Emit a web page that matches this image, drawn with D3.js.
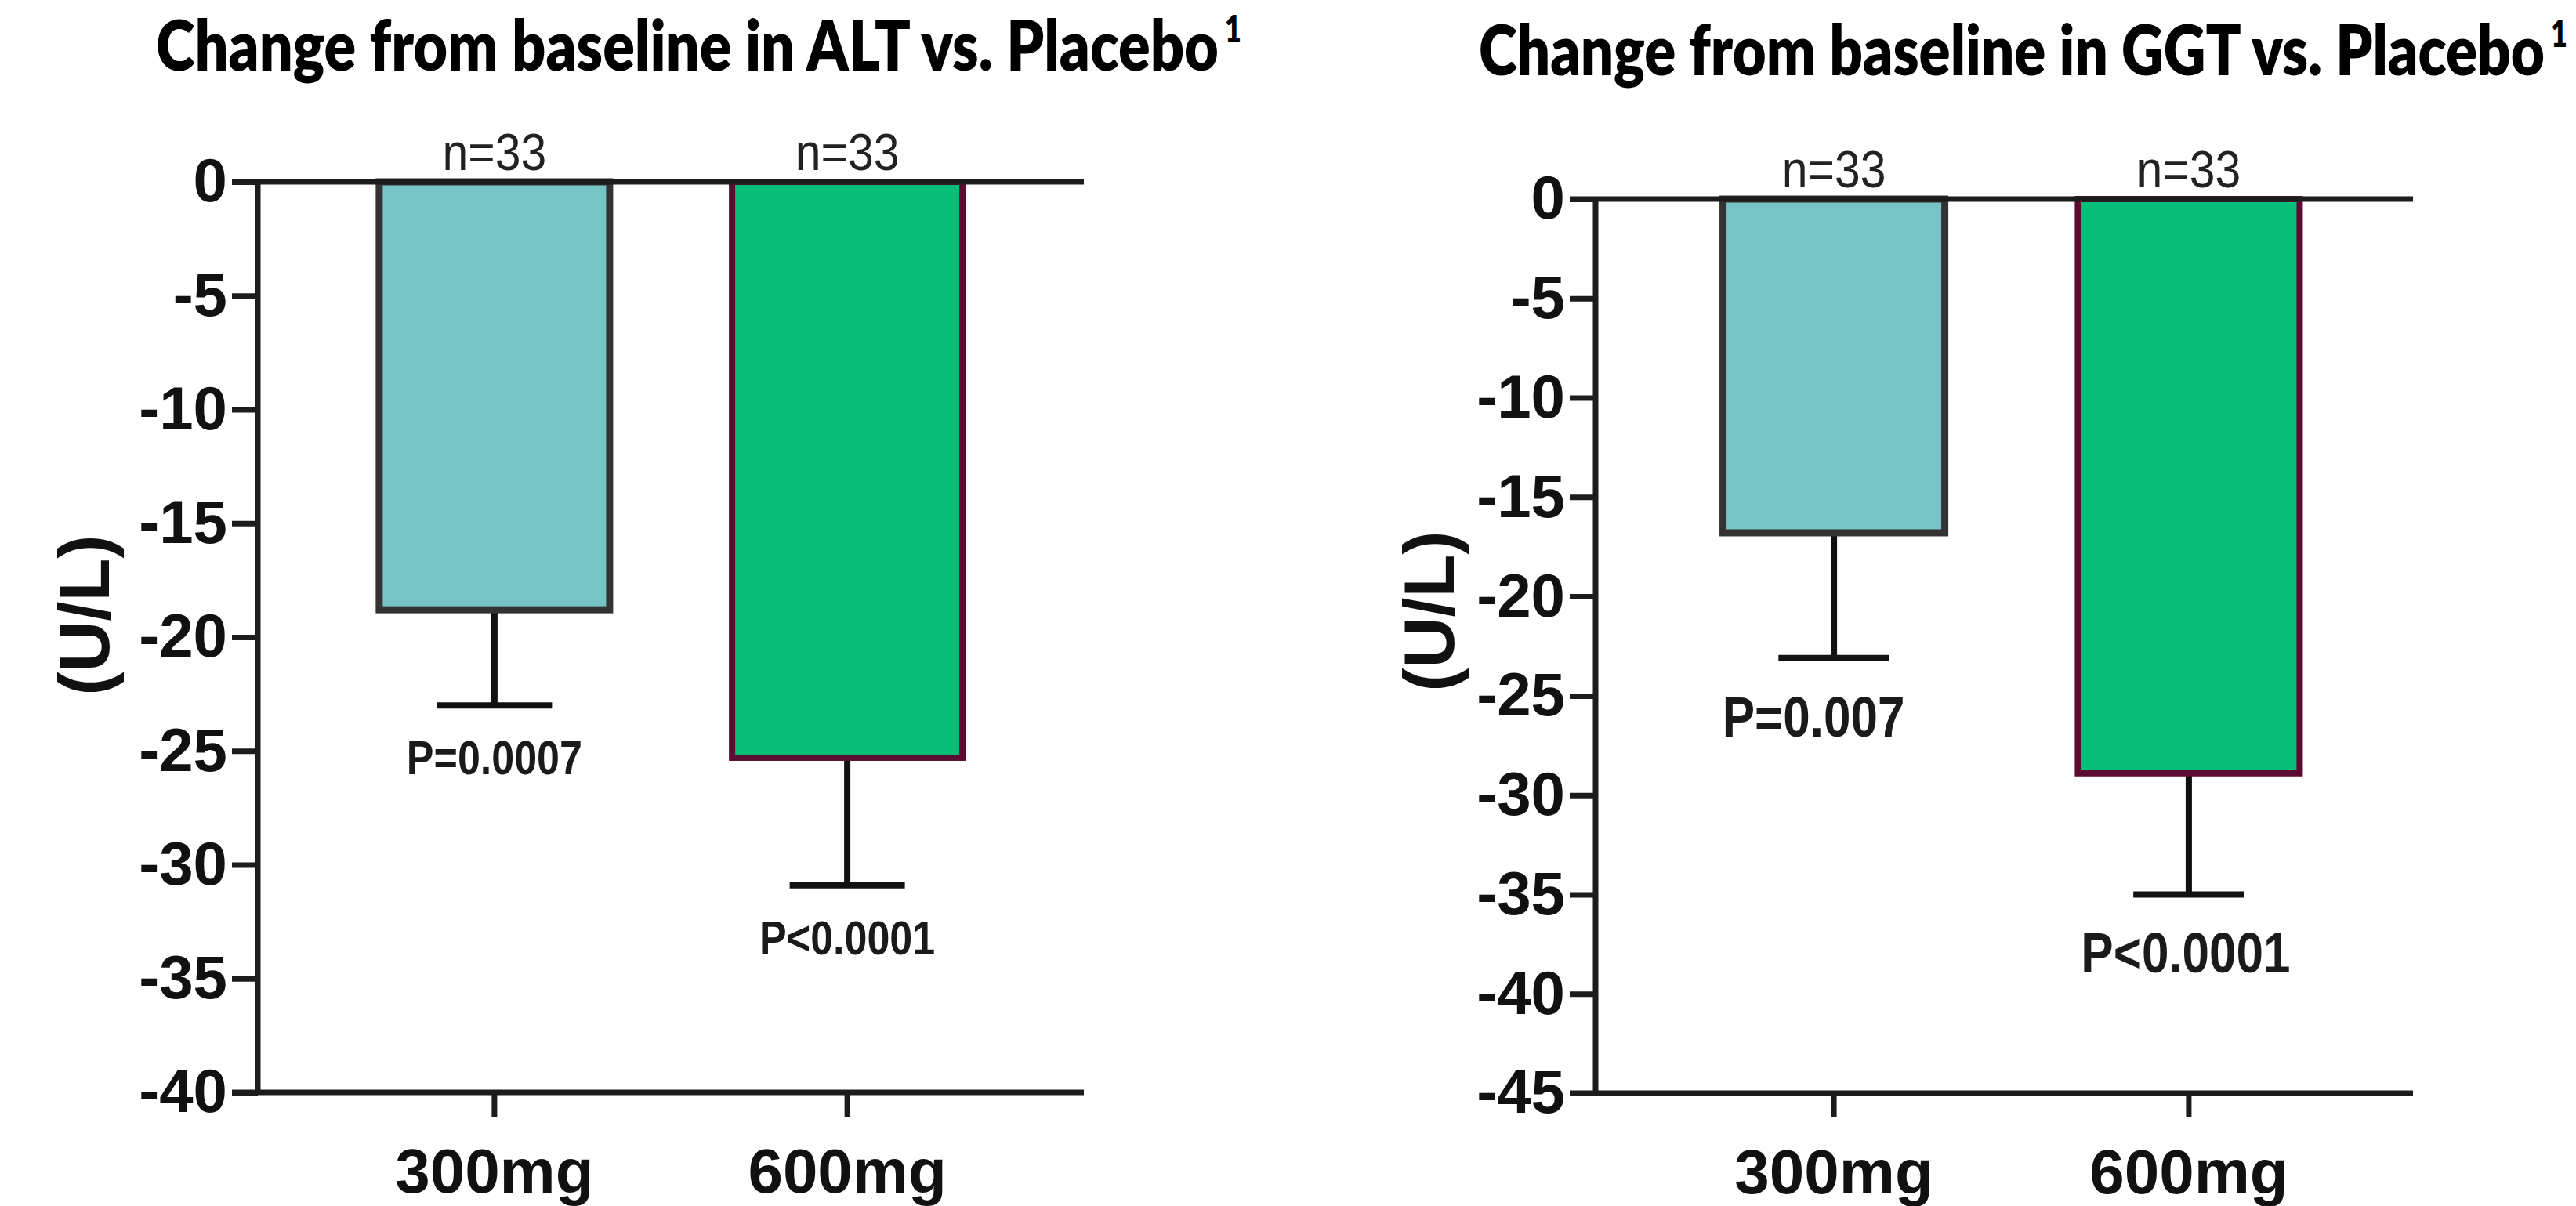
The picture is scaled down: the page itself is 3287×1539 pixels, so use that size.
<!DOCTYPE html>
<html>
<head>
<meta charset="utf-8">
<script src="https://cdn.jsdelivr.net/npm/d3@7"></script>
<style>
  html, body { margin: 0; padding: 0; background: #fff; }
  svg { display: block; }
</style>
</head>
<body>
<svg id="chart" width="3287" height="1539"></svg>
<script>
const doses = ["300mg", "600mg"];
const groupSizes = ["n=33", "n=33"];

const altMeans = [-18.8, -25.3];
const altErrorEnds = [-23.0, -30.9];
const altPValues = ["P=0.0007", "P<0.0001"];
const altTicks = [0, -5, -10, -15, -20, -25, -30, -35, -40];

const ggtMeans = [-16.8, -28.9];
const ggtErrorEnds = [-23.1, -35.0];
const ggtPValues = ["P=0.007", "P<0.0001"];
const ggtTicks = [0, -5, -10, -15, -20, -25, -30, -35, -40, -45];

const barFills = ["#76c4c6", "#05bf78"];
const barStrokes = ["#333333", "#5c0c32"];
const barStrokeWidths = [9, 8];

const axisColor = "#1c1c1c";
const numFont = "'Liberation Sans', Arial, sans-serif";
const titleFont = "Lato, 'Open Sans', sans-serif";

const svg = d3.select("#chart");

drawPanel({
  title: "Change from baseline in ALT vs. Placebo",
  means: altMeans, errorEnds: altErrorEnds, pLabels: altPValues, ticks: altTicks,
  left: 329, right: 1383, bandRight: 1383, top: 232, bottom: 1394,
  padInner: 0.347, padOuter: 0.344,
  titleX: 199, titleY: 90, titleWidth: 1356,
  yLabelX: 108, yLabelY: 785,
  pSize: 52, pGap: 88, pDx: [0, 0]
});

drawPanel({
  title: "Change from baseline in GGT vs. Placebo",
  means: ggtMeans, errorEnds: ggtErrorEnds, pLabels: ggtPValues, ticks: ggtTicks,
  left: 2036, right: 3079, bandRight: 3097, top: 254, bottom: 1395,
  padInner: 0.375, padOuter: 0.359,
  titleX: 1887, titleY: 96, titleWidth: 1360,
  yLabelX: 1824, yLabelY: 780,
  pSize: 62, pGap: 100, pDx: [-26, -4]
});

function drawPanel(o) {
  const g = svg.append("g");

  const y = d3.scaleLinear()
    .domain([0, d3.min(o.ticks)])
    .range([o.top, o.bottom]);

  const x = d3.scaleBand()
    .domain(doses)
    .range([o.left, o.bandRight])
    .paddingInner(o.padInner)
    .paddingOuter(o.padOuter);

  const rows = doses.map((dose, i) => ({
    dose,
    mean: o.means[i],
    err: o.errorEnds[i],
    p: o.pLabels[i],
    n: groupSizes[i],
    fill: barFills[i],
    stroke: barStrokes[i],
    strokeWidth: barStrokeWidths[i],
    pDx: o.pDx[i]
  }));
  const cx = (d) => x(d.dose) + x.bandwidth() / 2;
  const capW = x.bandwidth() * 0.5;

  // title: condensed look from a smaller size stretched vertically
  g.append("text")
    .attr("transform", `translate(${o.titleX},${o.titleY}) scale(1,1.4)`)
    .attr("textLength", o.titleWidth)
    .attr("lengthAdjust", "spacingAndGlyphs")
    .attr("font-family", titleFont)
    .attr("font-weight", 800)
    .attr("font-size", 64)
    .attr("fill", "#000")
    .text(o.title);
  g.append("text")
    .attr("transform", `translate(${o.titleX + o.titleWidth + 8},${o.titleY - 36}) scale(1,1.3)`)
    .attr("font-family", titleFont)
    .attr("font-weight", 800)
    .attr("font-size", 36)
    .attr("fill", "#000")
    .text("1");

  // error bars (below bars)
  const err = g.selectAll("g.err").data(rows).join("g").attr("class", "err")
    .attr("stroke", "#111")
    .attr("stroke-width", 8);
  err.append("line")
    .attr("x1", cx).attr("x2", cx)
    .attr("y1", (d) => y(d.mean)).attr("y2", (d) => y(d.err));
  err.append("line")
    .attr("x1", (d) => cx(d) - capW / 2).attr("x2", (d) => cx(d) + capW / 2)
    .attr("y1", (d) => y(d.err)).attr("y2", (d) => y(d.err));

  // bars
  g.selectAll("rect.bar").data(rows).join("rect").attr("class", "bar")
    .attr("x", (d) => x(d.dose))
    .attr("y", y(0))
    .attr("width", x.bandwidth())
    .attr("height", (d) => y(d.mean) - y(0))
    .attr("fill", (d) => d.fill)
    .attr("stroke", (d) => d.stroke)
    .attr("stroke-width", (d) => d.strokeWidth);

  // y axis
  const yAxis = g.append("g")
    .attr("transform", `translate(${o.left},0)`)
    .call(d3.axisLeft(y).tickValues(o.ticks).tickSize(33).tickPadding(6).tickFormat((d) => String(d)));
  yAxis.select(".domain").remove();
  yAxis.selectAll(".tick line").attr("stroke", axisColor).attr("stroke-width", 7);
  yAxis.selectAll(".tick text")
    .attr("font-family", numFont)
    .attr("font-weight", 700)
    .attr("font-size", 78)
    .attr("fill", "#111");

  g.append("line")
    .attr("x1", o.left).attr("x2", o.left)
    .attr("y1", y(0) - 3).attr("y2", y.range()[1] + 3)
    .attr("stroke", axisColor).attr("stroke-width", 7);

  // baseline (zero) and bottom lines
  [0, d3.min(o.ticks)].forEach((v) => {
    g.append("line")
      .attr("x1", o.left - 33).attr("x2", o.right)
      .attr("y1", y(v)).attr("y2", y(v))
      .attr("stroke", axisColor).attr("stroke-width", 7);
  });

  // x axis
  const xAxis = g.append("g")
    .attr("transform", `translate(0,${y.range()[1]})`)
    .call(d3.axisBottom(x).tickSize(31).tickSizeOuter(0).tickPadding(40));
  xAxis.select(".domain").remove();
  xAxis.selectAll(".tick line").attr("stroke", axisColor).attr("stroke-width", 7);
  xAxis.selectAll(".tick text")
    .attr("font-family", numFont)
    .attr("font-weight", 700)
    .attr("font-size", 80)
    .attr("fill", "#111");

  // n labels
  g.selectAll("text.n").data(rows).join("text").attr("class", "n")
    .attr("transform", (d) => `translate(${cx(d)},${y(0) - 15}) scale(0.95,1.08)`)
    .attr("text-anchor", "middle")
    .attr("font-family", numFont)
    .attr("font-size", 62)
    .attr("fill", "#222")
    .text((d) => d.n);

  // p labels
  g.selectAll("text.p").data(rows).join("text").attr("class", "p")
    .attr("transform", (d) => `translate(${cx(d) + d.pDx},${y(d.err) + o.pGap}) scale(1,1.16)`)
    .attr("text-anchor", "middle")
    .attr("font-family", numFont)
    .attr("font-weight", 700)
    .attr("font-size", o.pSize)
    .attr("fill", "#1a1a1a")
    .text((d) => d.p);

  // y label
  g.append("text")
    .attr("transform", `translate(${o.yLabelX},${o.yLabelY}) rotate(-90)`)
    .attr("text-anchor", "middle")
    .attr("dominant-baseline", "central")
    .attr("font-family", numFont)
    .attr("font-weight", 700)
    .attr("font-size", 90)
    .attr("fill", "#111")
    .text("(U/L)");
}
</script>
</body>
</html>
